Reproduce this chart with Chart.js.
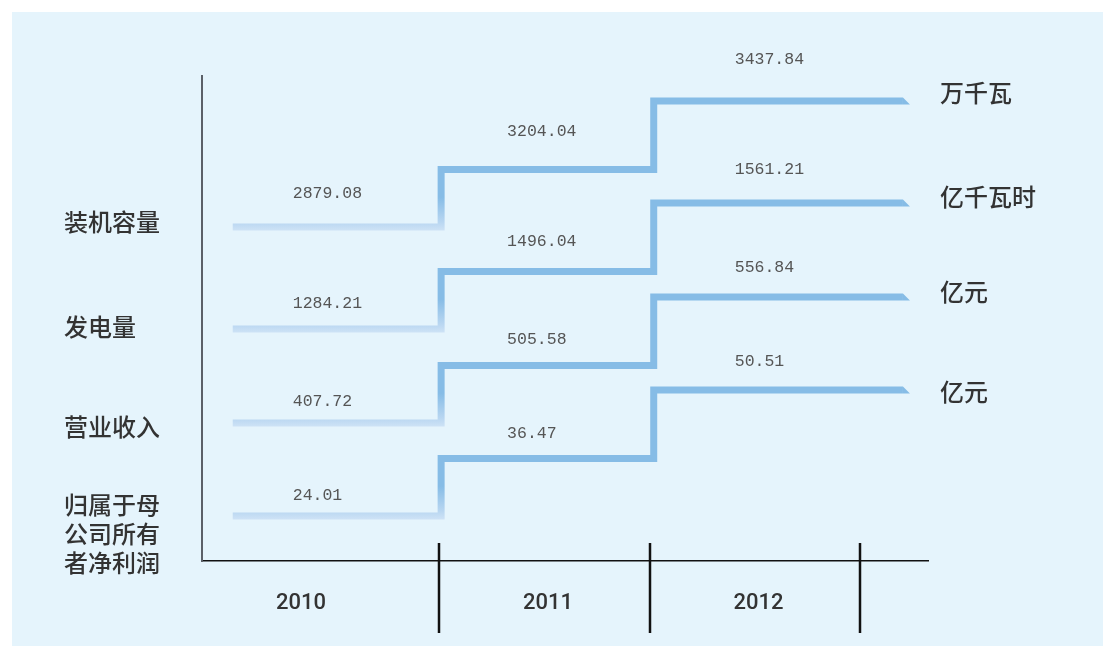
<!DOCTYPE html>
<html>
<head>
<meta charset="utf-8">
<script src="https://cdn.jsdelivr.net/npm/chart.js@4/dist/chart.umd.min.js"></script>
<style>
  html, body { margin: 0; padding: 0; background: #fff; }
  canvas { display: block; }
</style>
</head>
<body>
<canvas id="chart" width="1103" height="646"></canvas>
<script>
// Dados
const years = ['2010', '2011', '2012']
const categories = ['装机容量', '发电量', '营业收入', '归属于母公司所有者净利润']
const units = ['万千瓦', '亿千瓦时', '亿元', '亿元']
const capacity = [2879.08, 3204.04, 3437.84]
const generation = [1284.21, 1496.04, 1561.21]
const revenue = [407.72, 505.58, 556.84]
const netProfit = [24.01, 36.47, 50.51]
const seriesValues = [capacity, generation, revenue, netProfit]

// Layout esquemático (degraus não proporcionais aos valores)
const rowBase = [151, 253, 347, 440]      // nível 2010 de cada linha (unidades do eixo y)
const yearRise = [0, 57.5, 126]           // subida por ano
const stepX = [2009.52, 2010.51, 2011.52, 2012.704]
const labelDx = [60, 66, 81]
const labelOffRow = [33, 25, 21, 20]
const labelOffYear = [0, 4.5, 8]
const catDy = [-5, -2, 4, 18]
const unitDy = [-8, -6.5, -5.5, 2]
const yearLabelX = [2009.844, 2011.018, 2012.018]

const DARK = '#86bce6'
const LIGHT = '#cfe3f6'

const level = (row, yi) => rowBase[row] - yearRise[yi]

const datasets = seriesValues.map((vals, row) => ({
  label: categories[row],
  data: [
    { x: stepX[0], y: level(row, 0) },
    { x: stepX[1], y: level(row, 1) },
    { x: stepX[2], y: level(row, 2) },
    { x: stepX[3], y: level(row, 2) }
  ],
  stepped: 'before',
  borderWidth: 7,
  borderJoinStyle: 'miter',
  borderCapStyle: 'butt',
  pointRadius: 0,
  fill: false,
  borderColor: (ctx) => {
    const chart = ctx.chart
    if (!chart.chartArea) return DARK
    const y = chart.scales.y
    const y1 = y.getPixelForValue(level(row, 1))
    const y0 = y.getPixelForValue(level(row, 0))
    const g = chart.ctx.createLinearGradient(0, y1, 0, y0 + 4)
    g.addColorStop(0, DARK)
    g.addColorStop(0.45, DARK)
    g.addColorStop(0.85, '#b8d6f1')
    g.addColorStop(1, LIGHT)
    return g
  }
}))

const decor = {
  id: 'decor',
  beforeDraw(chart) {
    const { ctx } = chart
    ctx.save()
    ctx.fillStyle = '#e5f4fc'
    ctx.fillRect(12, 12, chart.width - 12, chart.height - 12)
    ctx.restore()
  },
  afterDatasetsDraw(chart) {
    const { ctx, chartArea } = chart
    const xs = chart.scales.x
    const ys = chart.scales.y
    ctx.save()

    // pontas chanfradas
    ctx.fillStyle = DARK
    seriesValues.forEach((v, row) => {
      const xe = xs.getPixelForValue(stepX[3])
      const ye = ys.getPixelForValue(level(row, 2))
      ctx.beginPath()
      ctx.moveTo(xe, ye - 3.5)
      ctx.lineTo(xe + 7, ye + 3.5)
      ctx.lineTo(xe, ye + 3.5)
      ctx.closePath()
      ctx.fill()
    })

    // valores
    ctx.font = '16.5px "Liberation Mono", "DejaVu Sans Mono", monospace'
    ctx.fillStyle = '#555'
    ctx.textAlign = 'left'
    ctx.textBaseline = 'middle'
    seriesValues.forEach((vals, row) => {
      vals.forEach((v, yi) => {
        const x = xs.getPixelForValue(stepX[yi]) + labelDx[yi]
        const y = ys.getPixelForValue(level(row, yi)) - labelOffRow[row] - labelOffYear[yi]
        ctx.fillText(v.toFixed(2), x, y)
      })
    })

    // categorias à esquerda
    ctx.font = '500 24px "Noto Sans CJK SC", sans-serif'
    ctx.fillStyle = '#333'
    categories.forEach((c, row) => {
      const lines = c.match(/.{1,4}/g)
      const cy = ys.getPixelForValue(level(row, 0)) + catDy[row]
      const lh = 29
      lines.forEach((ln, i) => {
        ctx.fillText(ln, 64, cy + (i - (lines.length - 1) / 2) * lh)
      })
    })

    // unidades à direita
    units.forEach((u, row) => {
      const y = ys.getPixelForValue(level(row, 2)) + unitDy[row]
      ctx.fillText(u, 940, y)
    })

    // separadores dos anos
    ctx.strokeStyle = '#111'
    ctx.lineWidth = 2.5
    years.forEach((yr, i) => {
      const x = Math.round(xs.getPixelForValue(Number(yr) + 0.5))
      ctx.beginPath()
      ctx.moveTo(x, chartArea.bottom - 18)
      ctx.lineTo(x, chartArea.bottom + 72)
      ctx.stroke()
    })

    // anos
    ctx.font = '500 22px Roboto, "Liberation Sans", sans-serif'
    ctx.fillStyle = '#333'
    ctx.textAlign = 'center'
    years.forEach((yr, i) => {
      ctx.fillText(yr, xs.getPixelForValue(yearLabelX[i]), chartArea.bottom + 42)
    })
    ctx.restore()
  }
}

function build() {
  new Chart(document.getElementById('chart'), {
    type: 'line',
    data: { datasets },
    options: {
      responsive: false,
      animation: false,
      events: [],
      layout: { padding: { left: 202, right: 175, top: 76, bottom: 85 } },
      plugins: { legend: { display: false }, tooltip: { enabled: false } },
      scales: {
        x: {
          type: 'linear',
          min: 2009.374,
          max: 2012.823,
          grid: { display: false, drawTicks: false },
          ticks: { display: false },
          border: { display: true, color: '#111', width: 1.5 }
        },
        y: {
          type: 'linear',
          reverse: true,
          min: 0,
          max: 485,
          grid: { display: false, drawTicks: false },
          ticks: { display: false },
          border: { display: true, color: '#5b6068', width: 2 }
        }
      }
    },
    plugins: [decor]
  })
}

Promise.all([
  document.fonts.load('500 24px "Noto Sans CJK SC"', '装机容量'),
  document.fonts.load('16px "Liberation Mono"'),
  document.fonts.load('500 22px Roboto')
]).catch(() => {}).then(build)
</script>
</body>
</html>
